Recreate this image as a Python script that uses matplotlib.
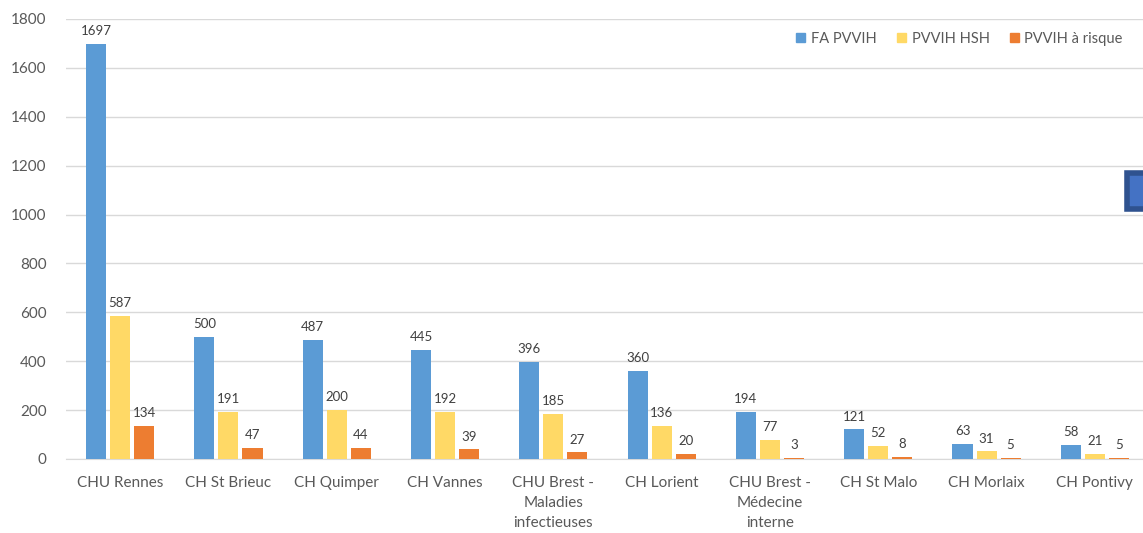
import matplotlib
matplotlib.use('Agg')
import matplotlib.pyplot as plt
import matplotlib.patches as mpatches
import numpy as np

categories = ['CHU Rennes', 'CH St Brieuc', 'CH Quimper', 'CH Vannes',
              'CHU Brest -\nMaladies\ninfectieuses', 'CH Lorient',
              'CHU Brest -\nMédecine\ninterne', 'CH St Malo', 'CH Morlaix', 'CH Pontivy']
fa_pvvih = [1697, 500, 487, 445, 396, 360, 194, 121, 63, 58]
pvvih_hsh = [587, 191, 200, 192, 185, 136, 77, 52, 31, 21]
pvvih_risque = [134, 47, 44, 39, 27, 20, 3, 8, 5, 5]
series_names = ['FA PVVIH', 'PVVIH HSH', 'PVVIH à risque']

COLORS = ['#5B9BD5', '#FFD966', '#ED7D31']
TEXT = '#595959'

plt.rcParams['font.family'] = ['Lato', 'DejaVu Sans']

W, H = 1143, 533
fig = plt.figure(figsize=(W / 100, H / 100), dpi=100)
fig.patch.set_facecolor('white')

# axes spans past the right edge, like the cropped original
left, right = 66, 1149
bottom, top = 459, 19
ax = fig.add_axes([left / W, 1 - bottom / H, (right - left) / W, (bottom - top) / H])

x = np.arange(len(categories))
width = 0.185
offset = 0.222
all_series = [fa_pvvih, pvvih_hsh, pvvih_risque]
for i, vals in enumerate(all_series):
    bars = ax.bar(x + (i - 1) * offset, vals, width, color=COLORS[i],
                  label=series_names[i], zorder=3)
    for b, v in zip(bars, vals):
        ax.text(b.get_x() + b.get_width() / 2, v + 28, str(v),
                ha='center', va='bottom', fontsize=9.5, color='#404040', zorder=4)

ax.set_xlim(-0.5, len(categories) - 0.5)
ax.set_ylim(0, 1800)
ax.set_yticks(range(0, 1801, 200))
ax.yaxis.grid(True, color='#d9d9d9', linewidth=1, zorder=0)
ax.set_axisbelow(True)
for s in ['top', 'right', 'left']:
    ax.spines[s].set_visible(False)
ax.spines['bottom'].set_color('#d9d9d9')
ax.tick_params(axis='both', length=0, colors=TEXT, labelsize=11)
ax.tick_params(axis='y', pad=14)
ax.tick_params(axis='x', pad=12)
ax.set_xticks(x)
ax.set_xticklabels(categories, linespacing=1.55)

handles = [mpatches.Patch(color=c, label=n) for c, n in zip(COLORS, series_names)]
fig.legend(handles=handles, loc='center right', bbox_to_anchor=(1136 / W, 1 - 39 / H),
           ncol=3, frameon=False, fontsize=10.5, labelcolor=TEXT,
           handlelength=0.6, handleheight=0.6, handletextpad=0.4, columnspacing=1.4)

# stray selected shape at the right edge
fig.add_artist(mpatches.Rectangle((1127 / W, 1 - 209 / H), 30 / W, 36 / H,
                                  transform=fig.transFigure, facecolor='#4472C4',
                                  edgecolor='#2F528F', linewidth=4, clip_on=False))

fig.savefig('out.png', dpi=100, facecolor='white')
